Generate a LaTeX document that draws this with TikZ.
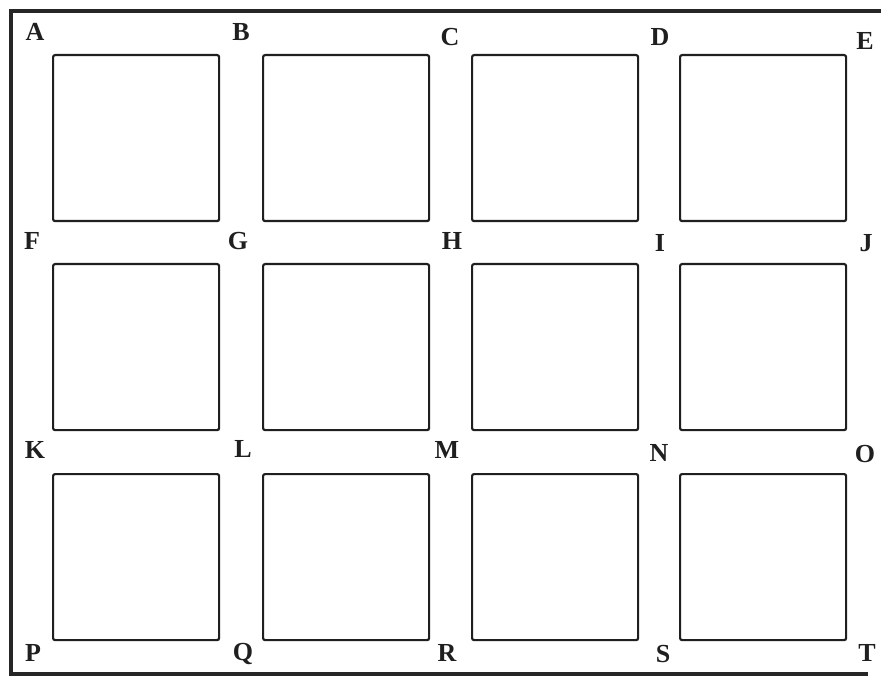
\documentclass[tikz,border=0pt]{standalone}
\usepackage{fontspec}
\setmainfont{Liberation Serif}
\begin{document}
\begin{tikzpicture}[x=1pt,y=-1pt,
  cell/.style={draw=black!88,line width=2.2pt,rounded corners=2pt,minimum width=166pt,minimum height=166pt,inner sep=0pt,anchor=north west},
  lbl/.style={font=\fontsize{26}{26}\selectfont\bfseries,text=black!88,inner sep=0pt,text height=17pt,text depth=0pt,anchor=center},
  frame/.style={draw=black!85,line width=3.6pt}]
\useasboundingbox (0,0) rectangle (881,679);
% outer frame (open on the right)
\coordinate (tr) at (881,11);
\coordinate (tl) at (11,11);
\coordinate (bl) at (11,674);
\coordinate (br) at (868,674);
\draw[frame] (tr) -- (tl) -- (bl) -- (br);
% squares
\foreach \r/\y in {1/54,2/263,3/473}{
  \foreach \c/\x in {1/52,2/262,3/471,4/679}{
    \node[cell] (s\r\c) at (\x,\y) {};
  }
}
% labels
\node[lbl] (A) at (35,32) {A};
\node[lbl] (B) at (241,32) {B};
\node[lbl] (C) at (450,37) {C};
\node[lbl] (D) at (660,37) {D};
\node[lbl] (E) at (865,41) {E};
\node[lbl] (F) at (32,241) {F};
\node[lbl] (G) at (238,241) {G};
\node[lbl] (H) at (452,241) {H};
\node[lbl] (I) at (660,243) {I};
\node[lbl] (J) at (866,243) {J};
\node[lbl] (K) at (35,450) {K};
\node[lbl] (L) at (243,449) {L};
\node[lbl] (M) at (447,450) {M};
\node[lbl] (N) at (659,453) {N};
\node[lbl] (O) at (865,454) {O};
\node[lbl] (P) at (33,653) {P};
\node[lbl] (Q) at (243,652) {Q};
\node[lbl] (R) at (447,653) {R};
\node[lbl] (S) at (663,654) {S};
\node[lbl] (T) at (867,653) {T};
\end{tikzpicture}
\end{document}
